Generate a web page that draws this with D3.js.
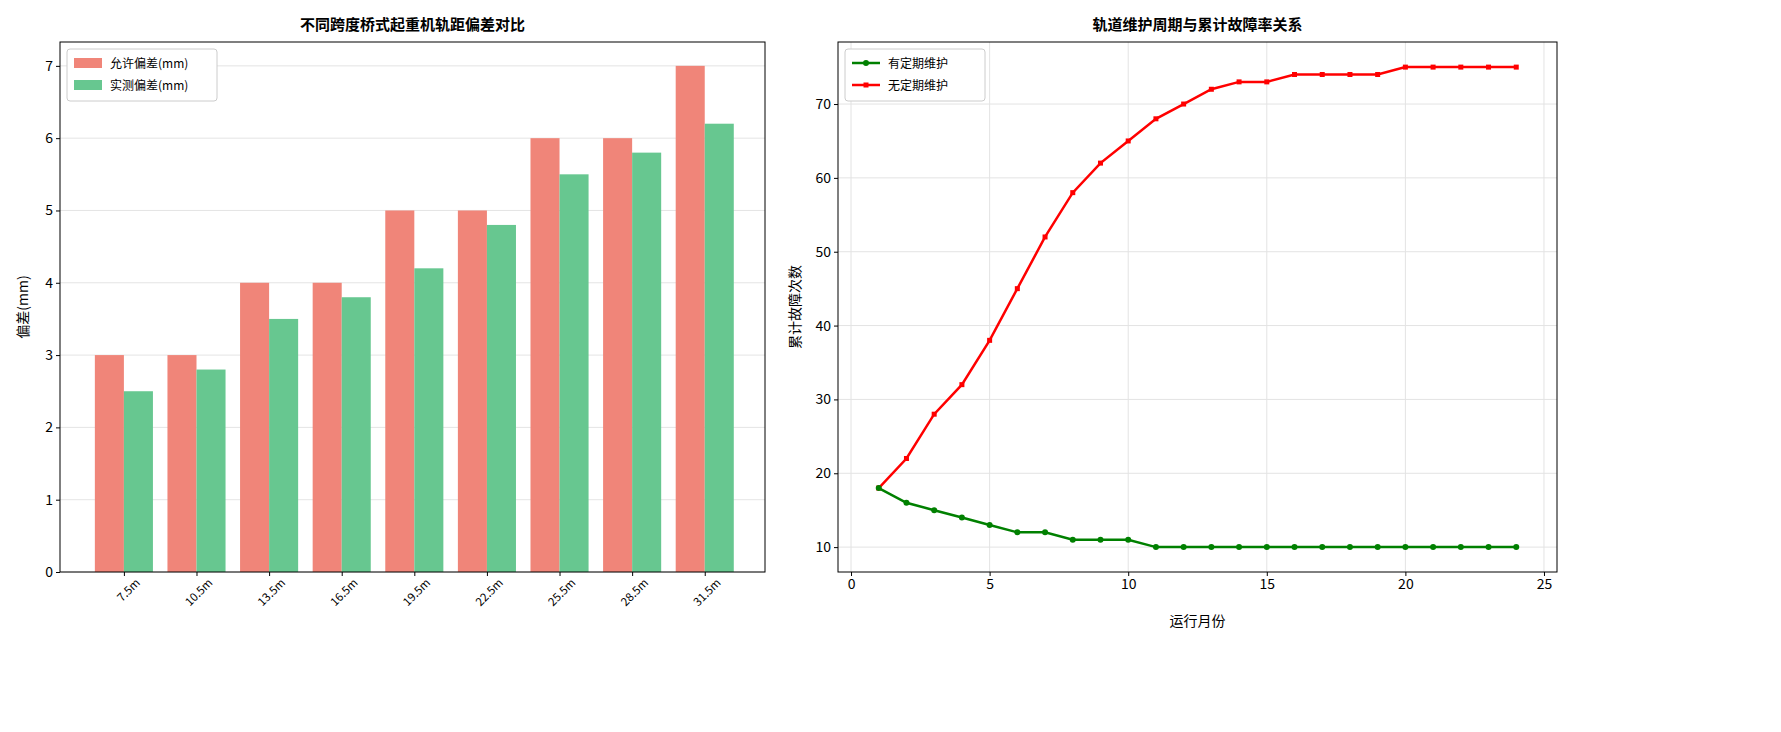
<!DOCTYPE html>
<html><head><meta charset="utf-8">
<script src="https://cdn.jsdelivr.net/npm/d3@7"></script>
<style>body{margin:0;background:#fff;font-family:"Noto Sans CJK SC","DejaVu Sans",sans-serif;}</style>
</head><body><svg id="c" width="1781" height="732"></svg>
<script>
const spans=["7.5m","10.5m","13.5m","16.5m","19.5m","22.5m","25.5m","28.5m","31.5m"];
const allowed=[3,3,4,4,5,5,6,6,7];
const measured=[2.5,2.8,3.5,3.8,4.2,4.8,5.5,5.8,6.2];
const months=d3.range(1,25);
const withMaint=[18,16,15,14,13,12,12,11,11,11,10,10,10,10,10,10,10,10,10,10,10,10,10,10];
const noMaint=[18,22,28,32,38,45,52,58,62,65,68,70,72,73,73,74,74,74,74,75,75,75,75,75];
const yTicksL=[0,1,2,3,4,5,6,7];
const xTicksR=[0,5,10,15,20,25];
const yTicksR=[10,20,30,40,50,60,70];

const svg=d3.select("#c");
const F="Noto Sans CJK SC";
// left
{
const L=60,R=765,T=42,B=572;
const g=svg.append("g");
const x=d3.scaleLinear().domain([-0.88,8.83]).range([L,R]);
const y=d3.scaleLinear().domain([0,7.33]).range([B,T]);
g.selectAll(".gl").data(yTicksL).join("line").attr("x1",L).attr("x2",R).attr("y1",d=>y(d)).attr("y2",d=>y(d)).attr("stroke","#ddd").attr("stroke-width",0.8);
g.selectAll(".a").data(allowed).join("rect").attr("x",(d,i)=>x(i-0.4)).attr("width",x(0.4)-x(0)).attr("y",d=>y(d)).attr("height",d=>B-y(d)).attr("fill","#f08579");
g.selectAll(".m").data(measured).join("rect").attr("x",(d,i)=>x(i)).attr("width",x(0.4)-x(0)).attr("y",d=>y(d)).attr("height",d=>B-y(d)).attr("fill","#67c790");
g.append("rect").attr("x",L).attr("y",T).attr("width",R-L).attr("height",B-T).attr("fill","none").attr("stroke","#000");
const ya=g.append("g").attr("transform",`translate(${L},0)`).call(d3.axisLeft(y).tickValues(yTicksL).tickSize(4).tickFormat(d3.format("d")));
ya.select(".domain").remove();ya.selectAll("text").attr("font-size",14).attr("font-family",F).attr("fill","#000");
const xa=g.append("g").attr("transform",`translate(0,${B})`).call(d3.axisBottom(x).tickValues(d3.range(9)).tickSize(4).tickFormat(i=>spans[i]));
xa.select(".domain").remove();
xa.selectAll("text").attr("font-size",11.5).attr("font-family",F).attr("fill","#000").attr("text-anchor","end").attr("transform","rotate(-45)").attr("dx","0.3em").attr("dy","1.1em");
g.append("text").attr("x",(L+R)/2).attr("y",30).attr("text-anchor","middle").attr("font-size",15).attr("font-weight","bold").attr("font-family",F).text("不同跨度桥式起重机轨距偏差对比");
g.append("text").attr("transform",`translate(28,${(T+B)/2}) rotate(-90)`).attr("text-anchor","middle").attr("font-size",14).attr("font-family",F).text("偏差(mm)");
const lg=g.append("g").attr("transform",`translate(${L+7},${T+7})`);
lg.append("rect").attr("width",150).attr("height",52).attr("fill","#fff").attr("stroke","#ccc").attr("rx",3);
[["允许偏差(mm)","#f08579"],["实测偏差(mm)","#67c790"]].forEach((e,i)=>{
lg.append("rect").attr("x",7).attr("y",9+i*22).attr("width",28).attr("height",10).attr("fill",e[1]);
lg.append("text").attr("x",43).attr("y",19+i*22).attr("font-size",12).attr("font-family",F).text(e[0]);});
}
// right
{
const L=838,R=1557,T=42,B=572;
const g=svg.append("g");
const x=d3.scaleLinear().domain([-0.47,25.47]).range([L,R]);
const y=d3.scaleLinear().domain([6.63,78.4]).range([B,T]);
g.selectAll(".gx").data(xTicksR).join("line").attr("x1",d=>x(d)).attr("x2",d=>x(d)).attr("y1",T).attr("y2",B).attr("stroke","#e3e3e3");
g.selectAll(".gy").data(yTicksR).join("line").attr("x1",L).attr("x2",R).attr("y1",d=>y(d)).attr("y2",d=>y(d)).attr("stroke","#e3e3e3");
const line=d3.line().x((d,i)=>x(months[i])).y(d=>y(d));
g.append("path").attr("d",line(noMaint)).attr("fill","none").attr("stroke","#ff0000").attr("stroke-width",2.5);
g.selectAll(".rs").data(noMaint).join("rect").attr("x",(d,i)=>x(months[i])-2.5).attr("y",d=>y(d)-2.5).attr("width",5).attr("height",5).attr("fill","#ff0000");
g.append("path").attr("d",line(withMaint)).attr("fill","none").attr("stroke","#008000").attr("stroke-width",2.5);
g.selectAll(".gc").data(withMaint).join("circle").attr("cx",(d,i)=>x(months[i])).attr("cy",d=>y(d)).attr("r",3).attr("fill","#008000");
g.append("rect").attr("x",L).attr("y",T).attr("width",R-L).attr("height",B-T).attr("fill","none").attr("stroke","#000");
const ya=g.append("g").attr("transform",`translate(${L},0)`).call(d3.axisLeft(y).tickValues(yTicksR).tickSize(4));
ya.select(".domain").remove();ya.selectAll("text").attr("font-size",14).attr("font-family",F).attr("fill","#000");
const xa=g.append("g").attr("transform",`translate(0,${B})`).call(d3.axisBottom(x).tickValues(xTicksR).tickSize(4));
xa.select(".domain").remove();xa.selectAll("text").attr("font-size",14).attr("font-family",F).attr("fill","#000");
g.append("text").attr("x",(L+R)/2).attr("y",30).attr("text-anchor","middle").attr("font-size",15).attr("font-weight","bold").attr("font-family",F).text("轨道维护周期与累计故障率关系");
g.append("text").attr("x",(L+R)/2).attr("y",626).attr("text-anchor","middle").attr("font-size",14).attr("font-family",F).text("运行月份");
g.append("text").attr("transform",`translate(800,${(T+B)/2}) rotate(-90)`).attr("text-anchor","middle").attr("font-size",14).attr("font-family",F).text("累计故障次数");
const lg=g.append("g").attr("transform",`translate(${L+7},${T+7})`);
lg.append("rect").attr("width",140).attr("height",52).attr("fill","#fff").attr("stroke","#ccc").attr("rx",3);
[["有定期维护","#008000","c"],["无定期维护","#ff0000","s"]].forEach((e,i)=>{
const cy=14+i*22;
lg.append("line").attr("x1",7).attr("x2",35).attr("y1",cy).attr("y2",cy).attr("stroke",e[1]).attr("stroke-width",2.5);
if(e[2]=="c")lg.append("circle").attr("cx",21).attr("cy",cy).attr("r",3).attr("fill",e[1]);
else lg.append("rect").attr("x",18.5).attr("y",cy-2.5).attr("width",5).attr("height",5).attr("fill",e[1]);
lg.append("text").attr("x",43).attr("y",cy+5).attr("font-size",12).attr("font-family",F).text(e[0]);});
}
</script></body></html>
